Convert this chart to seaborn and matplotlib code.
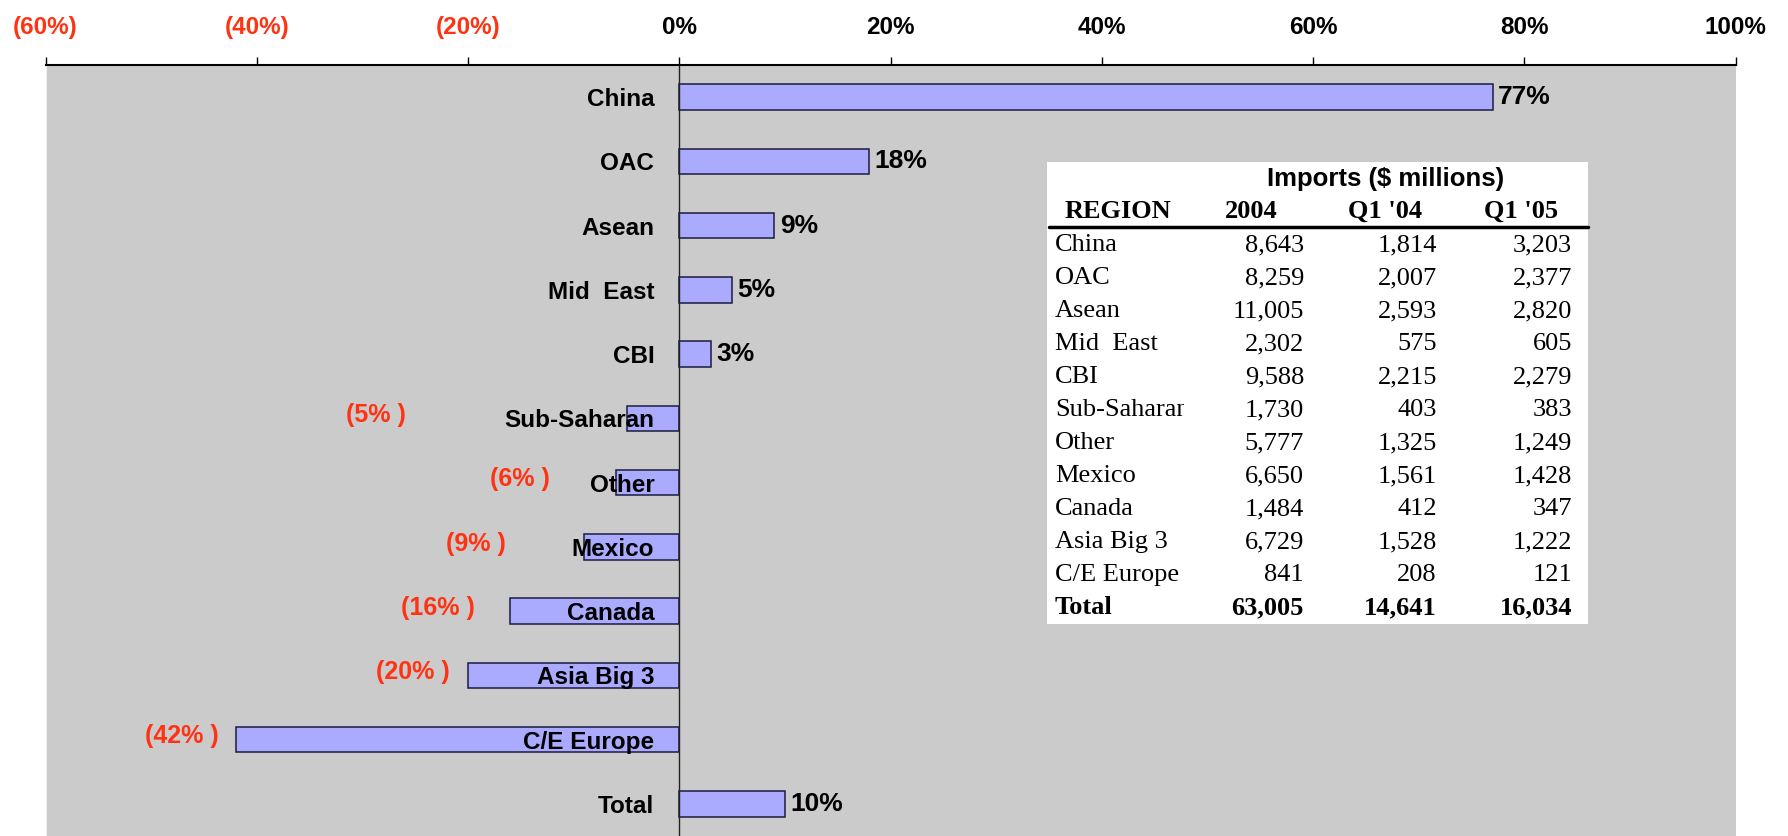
import numpy as np
import pandas as pd
import matplotlib
matplotlib.use('Agg')
import matplotlib.pyplot as plt
from matplotlib.patches import Rectangle
from matplotlib.lines import Line2D
import seaborn as sns

# --- data ---
# % change in imports, Q1 '05 vs Q1 '04
regions = ['China', 'OAC', 'Asean', 'Mid  East', 'CBI', 'Sub-Saharan', 'Other',
           'Mexico', 'Canada', 'Asia Big 3', 'C/E Europe', 'Total']
pct_change = [77, 18, 9, 5, 3, -5, -6, -9, -16, -20, -42, 10]

# imports table ($ millions)
table_regions = ['China', 'OAC', 'Asean', 'Mid  East', 'CBI', 'Sub-Saharan', 'Other',
                 'Mexico', 'Canada', 'Asia Big 3', 'C/E Europe', 'Total']
imports_2004 = [8643, 8259, 11005, 2302, 9588, 1730, 5777, 6650, 1484, 6729, 841, 63005]
imports_q1_04 = [1814, 2007, 2593, 575, 2215, 403, 1325, 1561, 412, 1528, 208, 14641]
imports_q1_05 = [3203, 2377, 2820, 605, 2279, 383, 1249, 1428, 347, 1222, 121, 16034]
table_cols = ['REGION', '2004', "Q1 '04", "Q1 '05"]

x_ticks = [-60, -40, -20, 0, 20, 40, 60, 80, 100]
# where the red labels of the falling regions sit (x in %), placed by hand
neg_label_x = [-25.9, -12.3, -16.4, -19.4, -21.7, -43.6]

RED = '#ff3311'
W, H = 1788, 836


def fx(px):
    return px / W


def fy(py):
    return 1 - py / H


def pct_fmt(v):
    return f'({abs(v)}%)' if v < 0 else f'{v}%'


sns.set_style('white')
plt.rcParams['font.family'] = ['Liberation Sans', 'DejaVu Sans']

fig = plt.figure(figsize=(W / 100, H / 100), dpi=100)
ax = fig.add_axes([fx(45.6), 0.0, fx(1735.6) - fx(45.6), 1 - 65 / H])
ax.set_facecolor('#cbcbcb')

df = pd.DataFrame({'region': regions, 'change': pct_change})
sns.barplot(data=df, x='change', y='region', orient='h', color='#aaaaff',
            saturation=1, width=0.4, edgecolor='#1c1c40', linewidth=1.1,
            errorbar=None, ax=ax)

ax.set_xlim(-60, 100)
ax.set_ylim(len(regions) - 0.52, -0.38)
ax.set_xlabel('')
ax.set_ylabel('')
# category names are written over the bars
ax.set_axisbelow(False)

# top x axis
ax.xaxis.set_ticks_position('top')
ax.set_xticks(x_ticks)
ax.set_xticklabels([pct_fmt(v) for v in x_ticks])
ax.tick_params(axis='x', direction='out', length=6, width=1, pad=13,
               labelsize=17.5, colors='black')
for lbl, v in zip(ax.get_xticklabels(), x_ticks):
    lbl.set_fontweight('bold')
    lbl.set_color(RED if v < 0 else 'black')

# category axis sits on the 0% line
ax.spines['left'].set_position(('data', 0))
ax.spines['left'].set_color('#222222')
ax.spines['left'].set_linewidth(1)
ax.spines['top'].set_color('black')
ax.spines['top'].set_linewidth(1.5)
ax.spines['right'].set_visible(False)
ax.spines['bottom'].set_visible(False)
ax.axvline(-60, color='#eeeeee', lw=1.5)

ax.set_yticks(np.arange(-0.5, len(regions), 1), minor=True)
ax.tick_params(axis='y', which='major', length=0, pad=18, labelsize=17.5,
               labelcolor='black')
ax.tick_params(axis='y', which='minor', direction='out', length=4, width=1,
               color='#222222')
for lbl in ax.get_yticklabels():
    lbl.set_fontweight('bold')

# value labels
k = 0
for i, v in enumerate(pct_change):
    if v >= 0:
        ax.text(v + 0.5, i, f'{v}%', ha='left', va='center', fontsize=19,
                fontweight='bold', color='black')
    else:
        ax.text(neg_label_x[k], i - 0.05, f'({abs(v)}% )', ha='right', va='center',
                fontsize=18, fontweight='bold', color=RED)
        k += 1

# --- imports table ---
fig.add_artist(Rectangle((fx(1047), fy(624)), (1588 - 1047) / W, (624 - 162) / H,
                         transform=fig.transFigure, facecolor='white',
                         edgecolor='none', zorder=5))
fig.text(fx(1386), fy(179), 'Imports ($ millions)', ha='center', va='center',
         fontsize=18.5, fontweight='bold', color='black', zorder=6)

serif = ['Liberation Serif', 'DejaVu Serif']
head_x = [1065, 1251, 1385, 1521]
head_ha = ['left', 'center', 'center', 'center']
for name, x, ha in zip(table_cols, head_x, head_ha):
    fig.text(fx(x), fy(211), name, ha=ha, va='center', fontsize=19,
             fontweight='bold', family=serif, color='black', zorder=6)
fig.add_artist(Line2D([fx(1049), fx(1588)], [fy(227), fy(227)],
                      transform=fig.transFigure, color='black', lw=2.5, zorder=6))

name_clip = Rectangle((fx(1047), 0), (1184 - 1047) / W, 1,
                      transform=fig.transFigure)
num_right = [1304, 1437, 1572]
for i, name in enumerate(table_regions):
    y = fy(245 + 33 * i)
    weight = 'bold' if name == 'Total' else 'normal'
    t = fig.text(fx(1055), y, name, ha='left', va='center', fontsize=19,
                 fontweight=weight, family=serif, color='black', zorder=6)
    t.set_clip_path(name_clip)
    for x, col in zip(num_right, [imports_2004, imports_q1_04, imports_q1_05]):
        fig.text(fx(x), y, f'{col[i]:,}', ha='right', va='center', fontsize=19,
                 fontweight=weight, family=serif, color='black', zorder=6)

fig.savefig('out.png', dpi=100, facecolor='white')
